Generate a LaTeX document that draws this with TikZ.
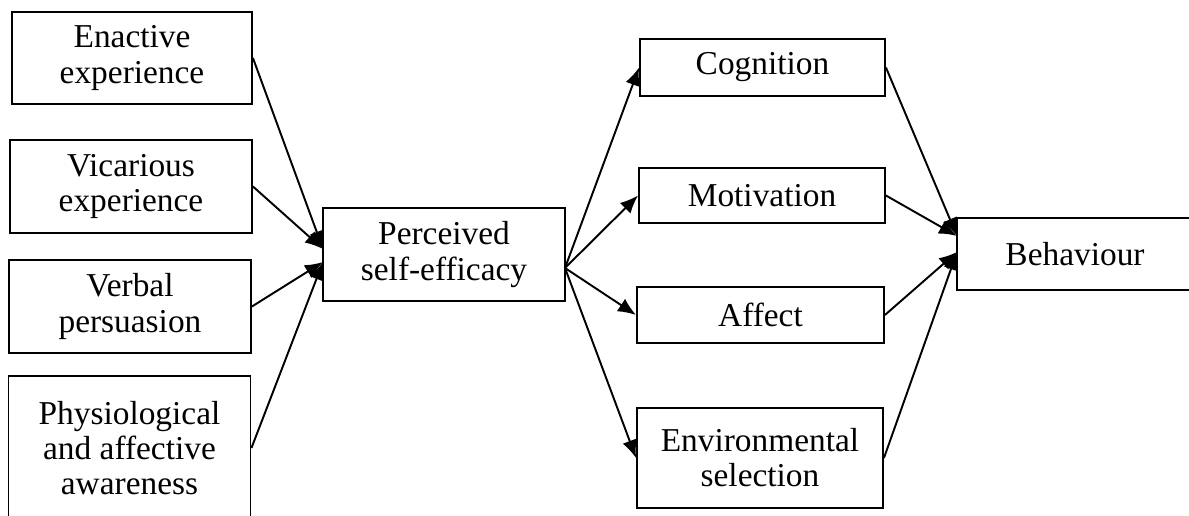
\documentclass[tikz,border=0pt]{standalone}
\usepackage{fontspec}
\setmainfont{Liberation Serif}
\usetikzlibrary{arrows.meta}

\begin{document}
\begin{tikzpicture}[x=0.02cm, y=-0.02cm, line width=1.1pt,
  box/.style={draw, align=center, inner sep=0pt, font=\fontsize{19}{20}\selectfont},
  link/.style={-{Latex[length=3.6mm,width=3mm]}}]
\useasboundingbox (0,0) rectangle (1189,516);

\node [box, minimum width=4.8cm, minimum height=1.84cm] (enactive) at (132,58) {Enactive\\experience};
\node [box, minimum width=4.84cm, minimum height=1.86cm] (vicarious) at (131,186.5) {Vicarious\\experience};
\node [box, minimum width=4.84cm, minimum height=1.86cm] (verbal) at (130,306.5) {Verbal\\persuasion};
\node [box, minimum width=4.84cm, minimum height=2.88cm] (physio) at (129.5,448) {Physiological\\and affective\\awareness};

\node [box, minimum width=4.84cm, minimum height=1.86cm] (efficacy) at (444,254.5) {Perceived\\self-efficacy};

\node [box, minimum width=4.9cm, minimum height=1.14cm] (cognition) at (762.5,67.5) {Cognition};
\node [box, minimum width=4.92cm, minimum height=1.1cm] (motivation) at (762,195.5) {Motivation};
\node [box, minimum width=4.94cm, minimum height=1.12cm] (affect) at (760.5,315) {Affect};
\node [box, minimum width=4.92cm, minimum height=2cm] (selection) at (760,458) {Environmental\\selection};

\node [box, minimum width=4.72cm, minimum height=1.44cm] (behaviour) at (1075,254) {Behaviour};

% % % % % % % % % % % % % % % % % % % % % % % % % %

\coordinate (effin1) at (323,249);
\coordinate (effin2) at (323,262);
\coordinate (effout) at (565,268);
\coordinate (behin1) at (957,236);
\coordinate (behin2) at (957,252);

\draw [link] (enactive.east) -- (effin1);
\draw [link] (vicarious.east) -- (effin1);
\draw [link] (verbal.east) -- (effin2);
\draw [link] (physio.east) -- (effin2);

\draw [link] (effout) -- (cognition.west);
\draw [link] (effout) -- (motivation.west);
\draw [link] (effout) -- (affect.west);
\draw [link] (effout) -- (selection.west);

\draw [link] (cognition.east) -- (behin1);
\draw [link] (motivation.east) -- (behin1);
\draw [link] (affect.east) -- (behin2);
\draw [link] (selection.east) -- (behin2);
\end{tikzpicture}
\end{document}
